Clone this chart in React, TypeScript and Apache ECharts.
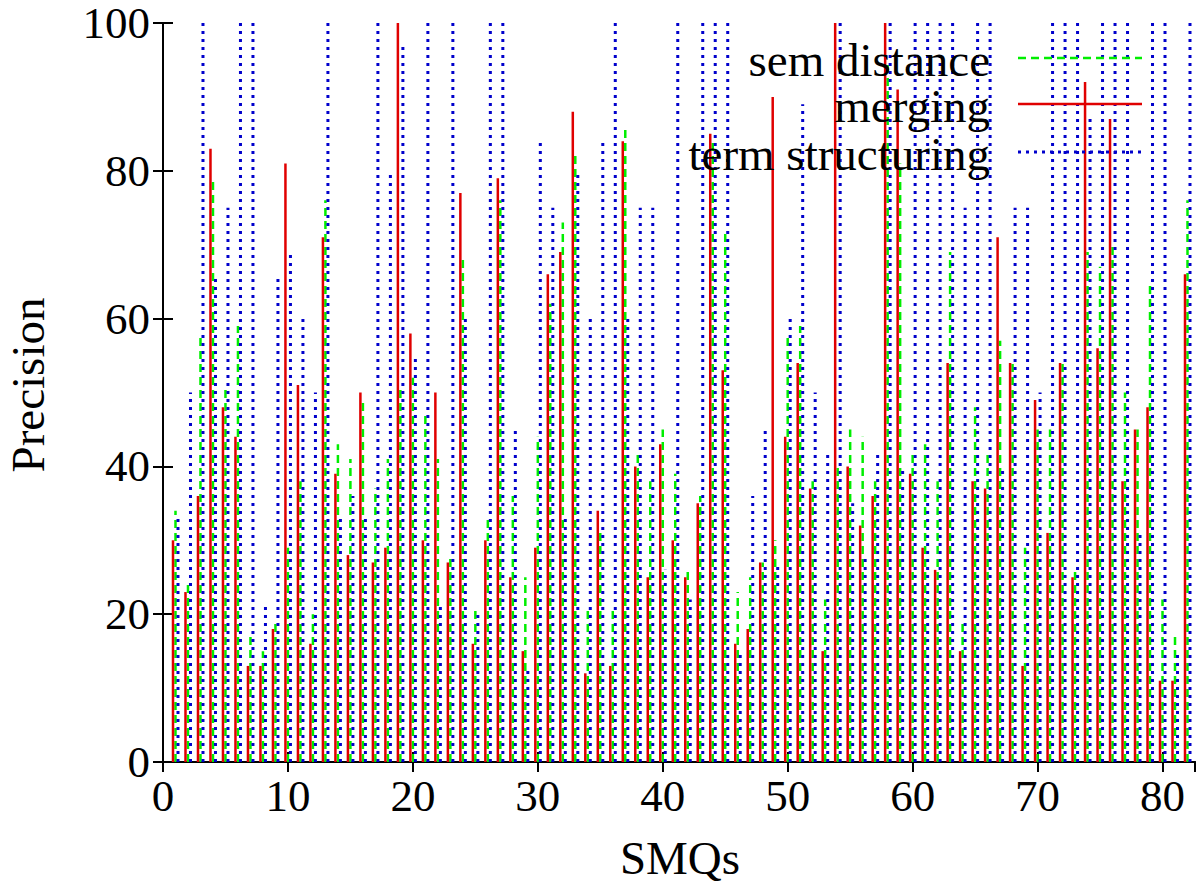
import React, { useEffect, useRef } from "react";
import * as echarts from "echarts";

const xTicks = [0, 10, 20, 30, 40, 50, 60, 70, 80];
const yTicks = [0, 20, 40, 60, 80, 100];

const semDistance = [
  34, 24, 58, 79, 51, 59, 17, 15, 19, 29,
  38, 20, 76, 43, 41, 49, 37, 41, 51, 52,
  47, 41, 28, 68, 21, 33, 76, 36, 25, 44,
  62, 73, 82, 21, 31, 21, 86, 42, 38, 45,
  39, 26, 36, 84, 72, 23, 25, 27, 30, 58,
  59, 38, 22, 40, 45, 44, 38, 95, 81, 42,
  43, 38, 69, 19, 48, 42, 57, 54, 29, 45,
  45, 54, 26, 69, 67, 70, 50, 45, 65, 22,
  17, 76,
];

const merging = [
  30, 23, 36, 83, 48, 44, 13, 13, 18, 81,
  51, 16, 71, 39, 28, 50, 27, 29, 100, 58,
  30, 50, 27, 77, 16, 30, 79, 25, 15, 29,
  66, 69, 88, 12, 34, 13, 84, 40, 25, 43,
  30, 25, 35, 85, 53, 16, 18, 27, 90, 44,
  54, 37, 15, 100, 40, 32, 36, 100, 91, 39,
  29, 26, 54, 15, 38, 37, 71, 54, 13, 49,
  31, 54, 25, 92, 56, 87, 38, 45, 48, 11,
  11, 66,
];

const termStructuring = [
  33, 50, 100, 66, 75, 100, 100, 21, 66, 69,
  60, 50, 100, 33, 36, 33, 100, 80, 97, 55,
  100, 21, 100, 60, 20, 100, 100, 45, 13, 84,
  75, 33, 80, 60, 84, 100, 60, 75, 75, 26,
  100, 22, 100, 100, 100, 15, 36, 45, 27, 60,
  89, 50, 42, 100, 35, 28, 42, 100, 40, 100,
  100, 100, 100, 75, 100, 100, 40, 75, 75, 50,
  100, 100, 100, 87, 100, 100, 100, 31, 100, 100,
  15, 100,
];

const seriesNames = ["sem distance", "merging", "term structuring"];

const FONT = "'Liberation Serif', 'Times New Roman', serif";

const GREEN = "#00ee00";
const RED = "#e00000";
const BLUE = "#0000cc";

function impulse(values: number[], offset: number, color: string, width: number, dash: number[] | null, name: string) {
  const data = values.map((v, i) => [i + 1 + offset, v]);
  return {
    type: "custom",
    name,
    xAxisIndex: 0,
    yAxisIndex: 0,
    clip: true,
    data,
    renderItem: (params: any, api: any) => {
      const x = api.value(0);
      const y = api.value(1);
      const p0 = api.coord([x, 0]);
      const p1 = api.coord([x, y]);
      return {
        type: "line",
        shape: { x1: p0[0], y1: p0[1], x2: p1[0], y2: p1[1] },
        style: { stroke: color, lineWidth: width, lineDash: dash || undefined, fill: null },
      };
    },
  };
}

export default function App() {
  const ref = useRef<HTMLDivElement>(null);
  useEffect(() => {
    if (!ref.current) return;
    const chart = echarts.init(ref.current, null, { renderer: "svg" });
    const axisCommon = {
      type: "value",
      axisLine: { show: true, lineStyle: { color: "#000", width: 2 } },
      axisTick: { show: true, inside: true, length: 10, lineStyle: { color: "#000", width: 2 } },
      splitLine: { show: false },
    };
    const labelStyle = { color: "#000", fontFamily: FONT, fontSize: 45, lineHeight: 40 };
    const textFont = `47px ${FONT}`;
    const legendX1 = 1018;
    const legendX2 = 1142;
    const legendYs = [58, 104, 152];
    const legendColors = [GREEN, RED, BLUE];
    const legendDash: any[] = [[8, 5], null, [3, 5]];
    const legendWidth = [2.5, 2.5, 3];
    const graphics: any[] = [];
    seriesNames.forEach((n, i) => {
      graphics.push({
        type: "text",
        x: 990,
        y: legendYs[i] + 2,
        style: {
          text: n,
          fill: "#000",
          font: textFont,
          lineHeight: 42,
          textAlign: "right",
          textVerticalAlign: "middle",
        },
        z: 10,
      });
      graphics.push({
        type: "line",
        shape: { x1: legendX1, y1: legendYs[i], x2: legendX2, y2: legendYs[i] },
        style: { stroke: legendColors[i], lineWidth: legendWidth[i], lineDash: legendDash[i] || undefined },
        z: 10,
      });
    });
    graphics.push({
      type: "text",
      x: 28,
      y: 385,
      rotation: Math.PI / 2,
      style: { text: "Precision", fill: "#000", font: textFont, textAlign: "center", textVerticalAlign: "middle" },
    });
    graphics.push({
      type: "text",
      x: 680,
      y: 858,
      style: { text: "SMQs", fill: "#000", font: textFont, textAlign: "center", textVerticalAlign: "middle" },
    });

    chart.setOption({
      animation: false,
      backgroundColor: "#fff",
      grid: { left: 163, right: 5, top: 23, bottom: 124, show: false },
      xAxis: [
        {
          ...axisCommon,
          position: "bottom",
          min: xTicks[0],
          max: 82.6,
          interval: 10,
          axisLabel: { ...labelStyle, margin: 14, showMaxLabel: false },
        },
        {
          ...axisCommon,
          position: "top",
          min: xTicks[0],
          max: 82.6,
          interval: 10,
          axisLabel: { show: false },
        },
      ],
      yAxis: [
        {
          ...axisCommon,
          position: "left",
          min: yTicks[0],
          max: yTicks[yTicks.length - 1],
          interval: 20,
          axisLabel: { ...labelStyle, margin: 13 },
        },
        {
          ...axisCommon,
          position: "right",
          min: yTicks[0],
          max: yTicks[yTicks.length - 1],
          interval: 20,
          axisLabel: { show: false },
        },
      ],
      series: [
        impulse(semDistance, 0, GREEN, 2.5, [8, 5], seriesNames[0]),
        impulse(merging, -0.2, RED, 2.5, null, seriesNames[1]),
        impulse(termStructuring, 0.2, BLUE, 3, [3, 5], seriesNames[2]),
      ],
      graphic: graphics,
    });
    return () => chart.dispose();
  }, []);
  return <div ref={ref} style={{ position: "fixed", left: 0, top: 0, width: 1200, height: 886 }} />;
}
